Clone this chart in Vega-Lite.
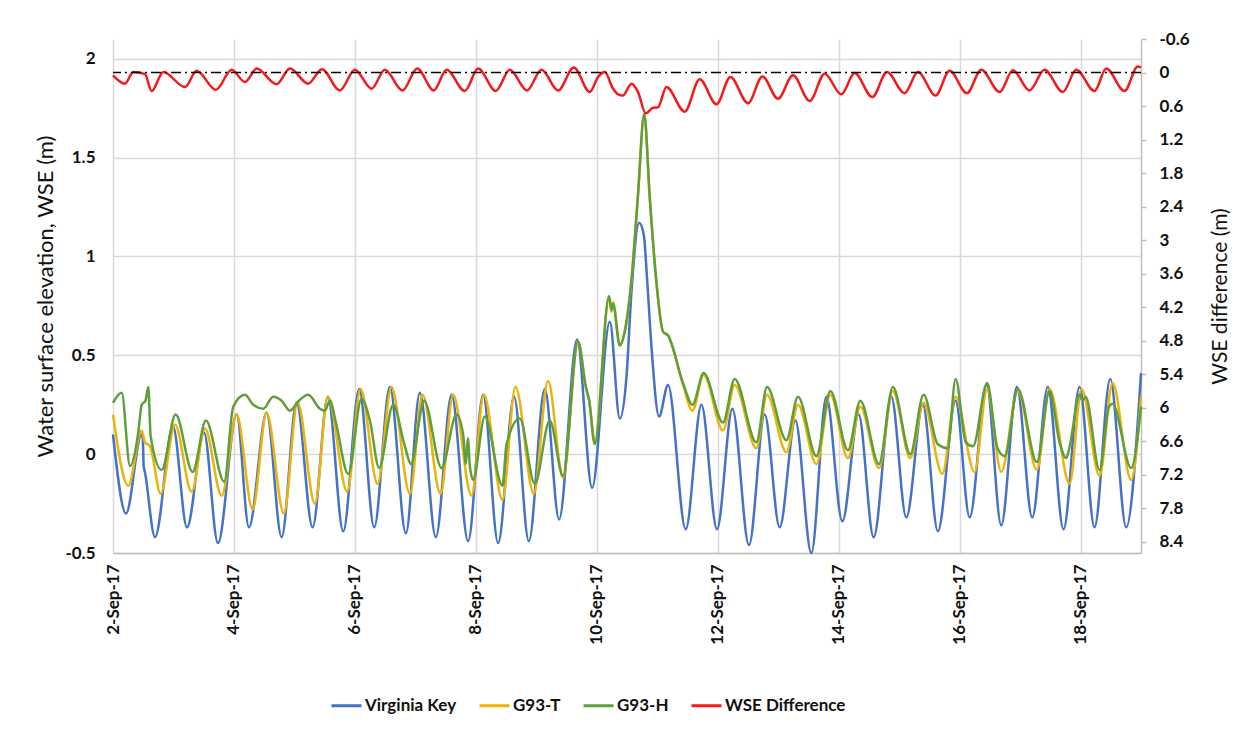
{
  "$schema": "https://vega.github.io/schema/vega-lite/v6.json",
  "autosize": "none",
  "width": 1028,
  "height": 514,
  "padding": {"left": 113, "top": 39, "right": 103, "bottom": 181},
  "background": "white",
  "config": {
    "view": {"stroke": null},
    "font": "Lato",
    "axis": {"labelFont": "Lato", "titleFont": "Lato", "labelColor": "#111", "titleColor": "#111", "labelOverlap": false},
    "axisRight": {"labelOverlap": false}
  },
  "datasets": {
    "wse": [
      {"t": "2017-09-02T00:00", "s": "Virginia Key", "v": 0.10},
      {"t": "2017-09-02T05:10", "s": "Virginia Key", "v": -0.30},
      {"t": "2017-09-02T11:20", "s": "Virginia Key", "v": 0.10},
      {"t": "2017-09-02T11:50", "s": "Virginia Key", "v": 0.08},
      {"t": "2017-09-02T12:10", "s": "Virginia Key", "v": -0.06},
      {"t": "2017-09-02T12:40", "s": "Virginia Key", "v": -0.09},
      {"t": "2017-09-02T16:40", "s": "Virginia Key", "v": -0.42},
      {"t": "2017-09-02T23:48", "s": "Virginia Key", "v": 0.14},
      {"t": "2017-09-03T05:22", "s": "Virginia Key", "v": -0.37},
      {"t": "2017-09-03T12:06", "s": "Virginia Key", "v": 0.11},
      {"t": "2017-09-03T17:39", "s": "Virginia Key", "v": -0.45},
      {"t": "2017-09-04T01:04", "s": "Virginia Key", "v": 0.20},
      {"t": "2017-09-04T05:57", "s": "Virginia Key", "v": -0.37},
      {"t": "2017-09-04T12:58", "s": "Virginia Key", "v": 0.21},
      {"t": "2017-09-04T18:55", "s": "Virginia Key", "v": -0.42},
      {"t": "2017-09-05T00:52", "s": "Virginia Key", "v": 0.26},
      {"t": "2017-09-05T07:13", "s": "Virginia Key", "v": -0.37},
      {"t": "2017-09-05T13:17", "s": "Virginia Key", "v": 0.29},
      {"t": "2017-09-05T19:22", "s": "Virginia Key", "v": -0.39},
      {"t": "2017-09-06T01:43", "s": "Virginia Key", "v": 0.33},
      {"t": "2017-09-06T07:40", "s": "Virginia Key", "v": -0.37},
      {"t": "2017-09-06T13:53", "s": "Virginia Key", "v": 0.34},
      {"t": "2017-09-06T20:14", "s": "Virginia Key", "v": -0.40},
      {"t": "2017-09-07T01:47", "s": "Virginia Key", "v": 0.31},
      {"t": "2017-09-07T08:08", "s": "Virginia Key", "v": -0.42},
      {"t": "2017-09-07T14:22", "s": "Virginia Key", "v": 0.30},
      {"t": "2017-09-07T20:57", "s": "Virginia Key", "v": -0.44},
      {"t": "2017-09-08T02:54", "s": "Virginia Key", "v": 0.30},
      {"t": "2017-09-08T08:51", "s": "Virginia Key", "v": -0.45},
      {"t": "2017-09-08T15:11", "s": "Virginia Key", "v": 0.29},
      {"t": "2017-09-08T21:02", "s": "Virginia Key", "v": -0.44},
      {"t": "2017-09-09T03:22", "s": "Virginia Key", "v": 0.33},
      {"t": "2017-09-09T09:03", "s": "Virginia Key", "v": -0.33},
      {"t": "2017-09-09T16:11", "s": "Virginia Key", "v": 0.58},
      {"t": "2017-09-09T22:08", "s": "Virginia Key", "v": -0.17},
      {"t": "2017-09-10T05:10", "s": "Virginia Key", "v": 0.67},
      {"t": "2017-09-10T09:08", "s": "Virginia Key", "v": 0.18},
      {"t": "2017-09-10T11:47", "s": "Virginia Key", "v": 0.39},
      {"t": "2017-09-10T13:46", "s": "Virginia Key", "v": 0.82},
      {"t": "2017-09-10T16:47", "s": "Virginia Key", "v": 1.17},
      {"t": "2017-09-10T18:39", "s": "Virginia Key", "v": 1.11},
      {"t": "2017-09-10T20:00", "s": "Virginia Key", "v": 0.88},
      {"t": "2017-09-10T21:44", "s": "Virginia Key", "v": 0.54},
      {"t": "2017-09-11T00:43", "s": "Virginia Key", "v": 0.19},
      {"t": "2017-09-11T04:17", "s": "Virginia Key", "v": 0.35},
      {"t": "2017-09-11T11:18", "s": "Virginia Key", "v": -0.38},
      {"t": "2017-09-11T17:32", "s": "Virginia Key", "v": 0.25},
      {"t": "2017-09-11T23:43", "s": "Virginia Key", "v": -0.38},
      {"t": "2017-09-12T05:50", "s": "Virginia Key", "v": 0.23},
      {"t": "2017-09-12T12:25", "s": "Virginia Key", "v": -0.46},
      {"t": "2017-09-12T18:38", "s": "Virginia Key", "v": 0.20},
      {"t": "2017-09-13T00:35", "s": "Virginia Key", "v": -0.37},
      {"t": "2017-09-13T06:49", "s": "Virginia Key", "v": 0.17},
      {"t": "2017-09-13T13:10", "s": "Virginia Key", "v": -0.50},
      {"t": "2017-09-13T19:07", "s": "Virginia Key", "v": 0.29},
      {"t": "2017-09-14T01:28", "s": "Virginia Key", "v": -0.34},
      {"t": "2017-09-14T07:56", "s": "Virginia Key", "v": 0.20},
      {"t": "2017-09-14T13:53", "s": "Virginia Key", "v": -0.42},
      {"t": "2017-09-14T20:54", "s": "Virginia Key", "v": 0.29},
      {"t": "2017-09-15T02:51", "s": "Virginia Key", "v": -0.32},
      {"t": "2017-09-15T09:26", "s": "Virginia Key", "v": 0.25},
      {"t": "2017-09-15T15:23", "s": "Virginia Key", "v": -0.39},
      {"t": "2017-09-15T22:25", "s": "Virginia Key", "v": 0.27},
      {"t": "2017-09-16T04:00", "s": "Virginia Key", "v": -0.32},
      {"t": "2017-09-16T10:43", "s": "Virginia Key", "v": 0.35},
      {"t": "2017-09-16T16:32", "s": "Virginia Key", "v": -0.36},
      {"t": "2017-09-16T22:44", "s": "Virginia Key", "v": 0.34},
      {"t": "2017-09-17T04:50", "s": "Virginia Key", "v": -0.32},
      {"t": "2017-09-17T11:01", "s": "Virginia Key", "v": 0.34},
      {"t": "2017-09-17T17:15", "s": "Virginia Key", "v": -0.38},
      {"t": "2017-09-17T23:36", "s": "Virginia Key", "v": 0.34},
      {"t": "2017-09-18T05:33", "s": "Virginia Key", "v": -0.37},
      {"t": "2017-09-18T11:47", "s": "Virginia Key", "v": 0.38},
      {"t": "2017-09-18T18:08", "s": "Virginia Key", "v": -0.37},
      {"t": "2017-09-19T00:00", "s": "Virginia Key", "v": 0.41},

      {"t": "2017-09-02T00:00", "s": "G93-T", "v": 0.20},
      {"t": "2017-09-02T06:04", "s": "G93-T", "v": -0.16},
      {"t": "2017-09-02T11:23", "s": "G93-T", "v": 0.12},
      {"t": "2017-09-02T12:42", "s": "G93-T", "v": 0.06},
      {"t": "2017-09-02T14:41", "s": "G93-T", "v": 0.04},
      {"t": "2017-09-02T18:55", "s": "G93-T", "v": -0.20},
      {"t": "2017-09-03T00:36", "s": "G93-T", "v": 0.15},
      {"t": "2017-09-03T07:13", "s": "G93-T", "v": -0.19},
      {"t": "2017-09-03T12:30", "s": "G93-T", "v": 0.13},
      {"t": "2017-09-03T19:07", "s": "G93-T", "v": -0.21},
      {"t": "2017-09-04T01:04", "s": "G93-T", "v": 0.20},
      {"t": "2017-09-04T07:25", "s": "G93-T", "v": -0.28},
      {"t": "2017-09-04T12:58", "s": "G93-T", "v": 0.21},
      {"t": "2017-09-04T19:50", "s": "G93-T", "v": -0.30},
      {"t": "2017-09-05T01:16", "s": "G93-T", "v": 0.26},
      {"t": "2017-09-05T08:08", "s": "G93-T", "v": -0.25},
      {"t": "2017-09-05T13:17", "s": "G93-T", "v": 0.29},
      {"t": "2017-09-05T20:57", "s": "G93-T", "v": -0.19},
      {"t": "2017-09-06T02:16", "s": "G93-T", "v": 0.33},
      {"t": "2017-09-06T09:00", "s": "G93-T", "v": -0.15},
      {"t": "2017-09-06T14:33", "s": "G93-T", "v": 0.34},
      {"t": "2017-09-06T21:49", "s": "G93-T", "v": -0.20},
      {"t": "2017-09-07T02:51", "s": "G93-T", "v": 0.30},
      {"t": "2017-09-07T10:00", "s": "G93-T", "v": -0.20},
      {"t": "2017-09-07T15:00", "s": "G93-T", "v": 0.30},
      {"t": "2017-09-07T22:18", "s": "G93-T", "v": -0.21},
      {"t": "2017-09-08T03:10", "s": "G93-T", "v": 0.30},
      {"t": "2017-09-08T10:35", "s": "G93-T", "v": -0.23},
      {"t": "2017-09-08T15:45", "s": "G93-T", "v": 0.34},
      {"t": "2017-09-08T23:00", "s": "G93-T", "v": -0.20},
      {"t": "2017-09-09T04:40", "s": "G93-T", "v": 0.37},
      {"t": "2017-09-09T10:37", "s": "G93-T", "v": -0.12},
      {"t": "2017-09-09T16:35", "s": "G93-T", "v": 0.57},
      {"t": "2017-09-09T19:40", "s": "G93-T", "v": 0.34},
      {"t": "2017-09-09T21:00", "s": "G93-T", "v": 0.27},
      {"t": "2017-09-09T23:13", "s": "G93-T", "v": 0.06},
      {"t": "2017-09-10T04:53", "s": "G93-T", "v": 0.79},
      {"t": "2017-09-10T05:50", "s": "G93-T", "v": 0.72},
      {"t": "2017-09-10T06:28", "s": "G93-T", "v": 0.77},
      {"t": "2017-09-10T09:08", "s": "G93-T", "v": 0.55},
      {"t": "2017-09-10T11:07", "s": "G93-T", "v": 0.62},
      {"t": "2017-09-10T13:46", "s": "G93-T", "v": 0.88},
      {"t": "2017-09-10T16:18", "s": "G93-T", "v": 1.30},
      {"t": "2017-09-10T18:50", "s": "G93-T", "v": 1.72},
      {"t": "2017-09-10T21:01", "s": "G93-T", "v": 1.30},
      {"t": "2017-09-10T23:36", "s": "G93-T", "v": 0.88},
      {"t": "2017-09-11T02:18", "s": "G93-T", "v": 0.62},
      {"t": "2017-09-11T04:17", "s": "G93-T", "v": 0.60},
      {"t": "2017-09-11T10:14", "s": "G93-T", "v": 0.35},
      {"t": "2017-09-11T13:58", "s": "G93-T", "v": 0.22},
      {"t": "2017-09-11T18:26", "s": "G93-T", "v": 0.40},
      {"t": "2017-09-12T02:06", "s": "G93-T", "v": 0.12},
      {"t": "2017-09-12T06:44", "s": "G93-T", "v": 0.35},
      {"t": "2017-09-12T15:21", "s": "G93-T", "v": 0.03},
      {"t": "2017-09-12T19:34", "s": "G93-T", "v": 0.30},
      {"t": "2017-09-13T03:15", "s": "G93-T", "v": 0.01},
      {"t": "2017-09-13T07:52", "s": "G93-T", "v": 0.25},
      {"t": "2017-09-13T15:10", "s": "G93-T", "v": -0.05},
      {"t": "2017-09-13T20:43", "s": "G93-T", "v": 0.30},
      {"t": "2017-09-14T03:42", "s": "G93-T", "v": -0.02},
      {"t": "2017-09-14T08:36", "s": "G93-T", "v": 0.24},
      {"t": "2017-09-14T16:00", "s": "G93-T", "v": -0.07},
      {"t": "2017-09-14T21:32", "s": "G93-T", "v": 0.32},
      {"t": "2017-09-15T04:26", "s": "G93-T", "v": -0.02},
      {"t": "2017-09-15T09:43", "s": "G93-T", "v": 0.26},
      {"t": "2017-09-15T17:08", "s": "G93-T", "v": -0.10},
      {"t": "2017-09-15T22:25", "s": "G93-T", "v": 0.29},
      {"t": "2017-09-16T05:57", "s": "G93-T", "v": -0.09},
      {"t": "2017-09-16T10:55", "s": "G93-T", "v": 0.33},
      {"t": "2017-09-16T16:32", "s": "G93-T", "v": -0.09},
      {"t": "2017-09-16T23:08", "s": "G93-T", "v": 0.32},
      {"t": "2017-09-17T06:40", "s": "G93-T", "v": -0.08},
      {"t": "2017-09-17T11:43", "s": "G93-T", "v": 0.33},
      {"t": "2017-09-17T19:39", "s": "G93-T", "v": -0.15},
      {"t": "2017-09-18T00:25", "s": "G93-T", "v": 0.33},
      {"t": "2017-09-18T07:33", "s": "G93-T", "v": -0.11},
      {"t": "2017-09-18T12:43", "s": "G93-T", "v": 0.36},
      {"t": "2017-09-18T20:06", "s": "G93-T", "v": -0.13},
      {"t": "2017-09-19T00:00", "s": "G93-T", "v": 0.29},

      {"t": "2017-09-02T00:00", "s": "G93-H", "v": 0.26},
      {"t": "2017-09-02T03:27", "s": "G93-H", "v": 0.31},
      {"t": "2017-09-02T06:45", "s": "G93-H", "v": -0.06},
      {"t": "2017-09-02T10:02", "s": "G93-H", "v": 0.11},
      {"t": "2017-09-02T11:23", "s": "G93-H", "v": 0.25},
      {"t": "2017-09-02T12:53", "s": "G93-H", "v": 0.27},
      {"t": "2017-09-02T14:00", "s": "G93-H", "v": 0.34},
      {"t": "2017-09-02T14:57", "s": "G93-H", "v": 0.09},
      {"t": "2017-09-02T19:19", "s": "G93-H", "v": -0.08},
      {"t": "2017-09-03T00:52", "s": "G93-H", "v": 0.20},
      {"t": "2017-09-03T07:37", "s": "G93-H", "v": -0.09},
      {"t": "2017-09-03T12:53", "s": "G93-H", "v": 0.17},
      {"t": "2017-09-03T20:09", "s": "G93-H", "v": -0.14},
      {"t": "2017-09-03T23:43", "s": "G93-H", "v": 0.24},
      {"t": "2017-09-04T04:22", "s": "G93-H", "v": 0.30},
      {"t": "2017-09-04T07:39", "s": "G93-H", "v": 0.25},
      {"t": "2017-09-04T11:37", "s": "G93-H", "v": 0.23},
      {"t": "2017-09-04T15:35", "s": "G93-H", "v": 0.29},
      {"t": "2017-09-04T18:55", "s": "G93-H", "v": 0.27},
      {"t": "2017-09-04T22:13", "s": "G93-H", "v": 0.22},
      {"t": "2017-09-05T01:47", "s": "G93-H", "v": 0.27},
      {"t": "2017-09-05T05:29", "s": "G93-H", "v": 0.30},
      {"t": "2017-09-05T10:07", "s": "G93-H", "v": 0.23},
      {"t": "2017-09-05T12:06", "s": "G93-H", "v": 0.22},
      {"t": "2017-09-05T14:05", "s": "G93-H", "v": 0.27},
      {"t": "2017-09-05T16:28", "s": "G93-H", "v": 0.16},
      {"t": "2017-09-05T21:20", "s": "G93-H", "v": -0.10},
      {"t": "2017-09-06T02:39", "s": "G93-H", "v": 0.28},
      {"t": "2017-09-06T05:57", "s": "G93-H", "v": 0.17},
      {"t": "2017-09-06T09:38", "s": "G93-H", "v": -0.07},
      {"t": "2017-09-06T15:11", "s": "G93-H", "v": 0.25},
      {"t": "2017-09-06T19:50", "s": "G93-H", "v": 0.04},
      {"t": "2017-09-06T22:13", "s": "G93-H", "v": -0.05},
      {"t": "2017-09-07T03:30", "s": "G93-H", "v": 0.27},
      {"t": "2017-09-07T10:24", "s": "G93-H", "v": -0.07},
      {"t": "2017-09-07T16:21", "s": "G93-H", "v": 0.20},
      {"t": "2017-09-07T18:58", "s": "G93-H", "v": 0.10},
      {"t": "2017-09-07T20:02", "s": "G93-H", "v": -0.05},
      {"t": "2017-09-07T20:50", "s": "G93-H", "v": 0.08},
      {"t": "2017-09-07T21:37", "s": "G93-H", "v": -0.06},
      {"t": "2017-09-07T22:56", "s": "G93-H", "v": -0.13},
      {"t": "2017-09-08T03:34", "s": "G93-H", "v": 0.19},
      {"t": "2017-09-08T10:35", "s": "G93-H", "v": -0.16},
      {"t": "2017-09-08T12:11", "s": "G93-H", "v": 0.05},
      {"t": "2017-09-08T17:27", "s": "G93-H", "v": 0.18},
      {"t": "2017-09-08T23:24", "s": "G93-H", "v": -0.15},
      {"t": "2017-09-09T05:21", "s": "G93-H", "v": 0.17},
      {"t": "2017-09-09T10:37", "s": "G93-H", "v": -0.11},
      {"t": "2017-09-09T16:35", "s": "G93-H", "v": 0.57},
      {"t": "2017-09-09T19:40", "s": "G93-H", "v": 0.34},
      {"t": "2017-09-09T21:00", "s": "G93-H", "v": 0.27},
      {"t": "2017-09-09T23:13", "s": "G93-H", "v": 0.05},
      {"t": "2017-09-10T04:53", "s": "G93-H", "v": 0.80},
      {"t": "2017-09-10T05:50", "s": "G93-H", "v": 0.73},
      {"t": "2017-09-10T06:28", "s": "G93-H", "v": 0.76},
      {"t": "2017-09-10T09:08", "s": "G93-H", "v": 0.55},
      {"t": "2017-09-10T11:07", "s": "G93-H", "v": 0.62},
      {"t": "2017-09-10T13:46", "s": "G93-H", "v": 0.88},
      {"t": "2017-09-10T16:18", "s": "G93-H", "v": 1.30},
      {"t": "2017-09-10T18:50", "s": "G93-H", "v": 1.72},
      {"t": "2017-09-10T21:01", "s": "G93-H", "v": 1.30},
      {"t": "2017-09-10T23:36", "s": "G93-H", "v": 0.88},
      {"t": "2017-09-11T02:18", "s": "G93-H", "v": 0.62},
      {"t": "2017-09-11T04:17", "s": "G93-H", "v": 0.60},
      {"t": "2017-09-11T10:14", "s": "G93-H", "v": 0.36},
      {"t": "2017-09-11T13:58", "s": "G93-H", "v": 0.25},
      {"t": "2017-09-11T18:26", "s": "G93-H", "v": 0.41},
      {"t": "2017-09-12T02:06", "s": "G93-H", "v": 0.16},
      {"t": "2017-09-12T06:44", "s": "G93-H", "v": 0.38},
      {"t": "2017-09-12T15:21", "s": "G93-H", "v": 0.06},
      {"t": "2017-09-12T19:34", "s": "G93-H", "v": 0.34},
      {"t": "2017-09-13T03:15", "s": "G93-H", "v": 0.07},
      {"t": "2017-09-13T07:52", "s": "G93-H", "v": 0.29},
      {"t": "2017-09-13T15:10", "s": "G93-H", "v": -0.01},
      {"t": "2017-09-13T20:43", "s": "G93-H", "v": 0.32},
      {"t": "2017-09-14T03:42", "s": "G93-H", "v": 0.02},
      {"t": "2017-09-14T08:36", "s": "G93-H", "v": 0.27},
      {"t": "2017-09-14T16:00", "s": "G93-H", "v": -0.05},
      {"t": "2017-09-14T21:32", "s": "G93-H", "v": 0.34},
      {"t": "2017-09-15T04:26", "s": "G93-H", "v": 0.00},
      {"t": "2017-09-15T09:43", "s": "G93-H", "v": 0.30},
      {"t": "2017-09-15T15:23", "s": "G93-H", "v": 0.05},
      {"t": "2017-09-15T19:15", "s": "G93-H", "v": 0.03},
      {"t": "2017-09-15T22:25", "s": "G93-H", "v": 0.38},
      {"t": "2017-09-16T02:30", "s": "G93-H", "v": 0.06},
      {"t": "2017-09-16T05:20", "s": "G93-H", "v": 0.04},
      {"t": "2017-09-16T10:55", "s": "G93-H", "v": 0.36},
      {"t": "2017-09-16T15:05", "s": "G93-H", "v": 0.03},
      {"t": "2017-09-16T17:55", "s": "G93-H", "v": -0.01},
      {"t": "2017-09-16T23:08", "s": "G93-H", "v": 0.33},
      {"t": "2017-09-17T06:40", "s": "G93-H", "v": -0.04},
      {"t": "2017-09-17T11:43", "s": "G93-H", "v": 0.32},
      {"t": "2017-09-17T15:40", "s": "G93-H", "v": 0.06},
      {"t": "2017-09-17T18:20", "s": "G93-H", "v": -0.02},
      {"t": "2017-09-17T19:38", "s": "G93-H", "v": 0.035},
      {"t": "2017-09-17T23:36", "s": "G93-H", "v": 0.30},
      {"t": "2017-09-18T00:48", "s": "G93-H", "v": 0.27},
      {"t": "2017-09-18T02:00", "s": "G93-H", "v": 0.29},
      {"t": "2017-09-18T07:33", "s": "G93-H", "v": -0.08},
      {"t": "2017-09-18T11:20", "s": "G93-H", "v": 0.24},
      {"t": "2017-09-18T12:43", "s": "G93-H", "v": 0.255},
      {"t": "2017-09-18T20:06", "s": "G93-H", "v": -0.07},
      {"t": "2017-09-19T00:00", "s": "G93-H", "v": 0.24}
    ],
    "diff": [
      {"t": "2017-09-02T00:00", "s": "WSE Difference", "d": 0.05},
      {"t": "2017-09-02T04:46", "s": "WSE Difference", "d": 0.20},
      {"t": "2017-09-02T08:03", "s": "WSE Difference", "d": -0.01},
      {"t": "2017-09-02T12:41", "s": "WSE Difference", "d": 0.03},
      {"t": "2017-09-02T15:21", "s": "WSE Difference", "d": 0.33},
      {"t": "2017-09-02T19:57", "s": "WSE Difference", "d": -0.01},
      {"t": "2017-09-03T04:34", "s": "WSE Difference", "d": 0.26},
      {"t": "2017-09-03T09:12", "s": "WSE Difference", "d": -0.03},
      {"t": "2017-09-03T16:52", "s": "WSE Difference", "d": 0.31},
      {"t": "2017-09-03T23:05", "s": "WSE Difference", "d": -0.05},
      {"t": "2017-09-04T04:22", "s": "WSE Difference", "d": 0.17},
      {"t": "2017-09-04T09:00", "s": "WSE Difference", "d": -0.07},
      {"t": "2017-09-04T16:56", "s": "WSE Difference", "d": 0.21},
      {"t": "2017-09-04T22:13", "s": "WSE Difference", "d": -0.07},
      {"t": "2017-09-05T05:28", "s": "WSE Difference", "d": 0.20},
      {"t": "2017-09-05T10:55", "s": "WSE Difference", "d": -0.06},
      {"t": "2017-09-05T18:03", "s": "WSE Difference", "d": 0.32},
      {"t": "2017-09-06T00:00", "s": "WSE Difference", "d": -0.05},
      {"t": "2017-09-06T06:37", "s": "WSE Difference", "d": 0.29},
      {"t": "2017-09-06T11:54", "s": "WSE Difference", "d": -0.05},
      {"t": "2017-09-06T18:55", "s": "WSE Difference", "d": 0.32},
      {"t": "2017-09-07T00:43", "s": "WSE Difference", "d": -0.07},
      {"t": "2017-09-07T07:20", "s": "WSE Difference", "d": 0.32},
      {"t": "2017-09-07T12:22", "s": "WSE Difference", "d": -0.05},
      {"t": "2017-09-07T19:38", "s": "WSE Difference", "d": 0.33},
      {"t": "2017-09-08T00:55", "s": "WSE Difference", "d": -0.07},
      {"t": "2017-09-08T07:56", "s": "WSE Difference", "d": 0.33},
      {"t": "2017-09-08T13:29", "s": "WSE Difference", "d": -0.05},
      {"t": "2017-09-08T20:21", "s": "WSE Difference", "d": 0.32},
      {"t": "2017-09-09T02:04", "s": "WSE Difference", "d": -0.05},
      {"t": "2017-09-09T08:40", "s": "WSE Difference", "d": 0.32},
      {"t": "2017-09-09T14:53", "s": "WSE Difference", "d": -0.09},
      {"t": "2017-09-09T21:13", "s": "WSE Difference", "d": 0.35},
      {"t": "2017-09-10T00:31", "s": "WSE Difference", "d": 0.08},
      {"t": "2017-09-10T03:10", "s": "WSE Difference", "d": -0.01},
      {"t": "2017-09-10T06:28", "s": "WSE Difference", "d": 0.29},
      {"t": "2017-09-10T08:27", "s": "WSE Difference", "d": 0.39},
      {"t": "2017-09-10T10:26", "s": "WSE Difference", "d": 0.41},
      {"t": "2017-09-10T13:46", "s": "WSE Difference", "d": 0.20},
      {"t": "2017-09-10T16:23", "s": "WSE Difference", "d": 0.35},
      {"t": "2017-09-10T19:26", "s": "WSE Difference", "d": 0.73},
      {"t": "2017-09-10T22:20", "s": "WSE Difference", "d": 0.63},
      {"t": "2017-09-11T00:19", "s": "WSE Difference", "d": 0.62},
      {"t": "2017-09-11T03:38", "s": "WSE Difference", "d": 0.26},
      {"t": "2017-09-11T10:55", "s": "WSE Difference", "d": 0.70},
      {"t": "2017-09-11T16:52", "s": "WSE Difference", "d": 0.12},
      {"t": "2017-09-11T23:30", "s": "WSE Difference", "d": 0.57},
      {"t": "2017-09-12T05:03", "s": "WSE Difference", "d": 0.08},
      {"t": "2017-09-12T12:02", "s": "WSE Difference", "d": 0.55},
      {"t": "2017-09-12T17:45", "s": "WSE Difference", "d": 0.07},
      {"t": "2017-09-12T23:56", "s": "WSE Difference", "d": 0.47},
      {"t": "2017-09-13T05:53", "s": "WSE Difference", "d": 0.05},
      {"t": "2017-09-13T12:30", "s": "WSE Difference", "d": 0.51},
      {"t": "2017-09-13T18:27", "s": "WSE Difference", "d": 0.02},
      {"t": "2017-09-14T01:04", "s": "WSE Difference", "d": 0.39},
      {"t": "2017-09-14T06:20", "s": "WSE Difference", "d": 0.01},
      {"t": "2017-09-14T13:22", "s": "WSE Difference", "d": 0.44},
      {"t": "2017-09-14T19:10", "s": "WSE Difference", "d": -0.01},
      {"t": "2017-09-15T02:11", "s": "WSE Difference", "d": 0.37},
      {"t": "2017-09-15T07:28", "s": "WSE Difference", "d": -0.01},
      {"t": "2017-09-15T14:29", "s": "WSE Difference", "d": 0.41},
      {"t": "2017-09-15T20:03", "s": "WSE Difference", "d": -0.03},
      {"t": "2017-09-16T02:54", "s": "WSE Difference", "d": 0.37},
      {"t": "2017-09-16T08:37", "s": "WSE Difference", "d": -0.05},
      {"t": "2017-09-16T15:53", "s": "WSE Difference", "d": 0.35},
      {"t": "2017-09-16T21:10", "s": "WSE Difference", "d": -0.04},
      {"t": "2017-09-17T03:46", "s": "WSE Difference", "d": 0.32},
      {"t": "2017-09-17T09:43", "s": "WSE Difference", "d": -0.05},
      {"t": "2017-09-17T16:59", "s": "WSE Difference", "d": 0.35},
      {"t": "2017-09-17T22:18", "s": "WSE Difference", "d": -0.05},
      {"t": "2017-09-18T05:33", "s": "WSE Difference", "d": 0.33},
      {"t": "2017-09-18T10:12", "s": "WSE Difference", "d": -0.07},
      {"t": "2017-09-18T17:27", "s": "WSE Difference", "d": 0.33},
      {"t": "2017-09-18T22:44", "s": "WSE Difference", "d": -0.11},
      {"t": "2017-09-19T00:00", "s": "WSE Difference", "d": -0.09}
    ]
  },
  "layer": [
    {
      "data": {"name": "wse"},
      "mark": {"type": "line", "interpolate": "monotone", "strokeWidth": 2.5},
      "encoding": {
        "x": {
          "field": "t",
          "type": "temporal",
          "scale": {"domain": [{"year": 2017, "month": "sep", "date": 2}, {"year": 2017, "month": "sep", "date": 19}]},
          "axis": {
            "title": null,
            "values": [
              {"year": 2017, "month": "sep", "date": 2},
              {"year": 2017, "month": "sep", "date": 4},
              {"year": 2017, "month": "sep", "date": 6},
              {"year": 2017, "month": "sep", "date": 8},
              {"year": 2017, "month": "sep", "date": 10},
              {"year": 2017, "month": "sep", "date": 12},
              {"year": 2017, "month": "sep", "date": 14},
              {"year": 2017, "month": "sep", "date": 16},
              {"year": 2017, "month": "sep", "date": 18}
            ],
            "format": "%-d-%b-%y",
            "labelAngle": -90,
            "labelFontSize": 17,
            "labelFontWeight": "bold",
            "labelPadding": 11,
            "labelOverlap": false,
            "ticks": false,
            "tickSize": 0,
            "grid": true,
            "gridColor": "#D9D9D9",
            "gridWidth": 1.5,
            "domainColor": "#BFBFBF",
            "domainWidth": 1.5
          }
        },
        "y": {
          "field": "v",
          "type": "quantitative",
          "scale": {"domain": [-0.5, 2.1], "nice": false, "zero": false},
          "axis": {
            "title": "Water surface elevation, WSE (m)",
            "titleFontSize": 22,
            "titleFontWeight": "normal",
            "titlePadding": 7,
            "values": [-0.5, 0, 0.5, 1, 1.5, 2],
            "labelExpr": "datum.value < 0 ? '-' + format(-datum.value, '~g') : format(datum.value, '~g')",
            "labelFontSize": 17,
            "labelFontWeight": "bold",
            "labelPadding": 18,
            "labelOverlap": false,
            "domain": false,
            "ticks": false,
            "tickSize": 0,
            "grid": true,
            "gridColor": "#D9D9D9",
            "gridWidth": 1.5
          }
        },
        "color": {
          "field": "s",
          "type": "nominal",
          "scale": {
            "domain": ["Virginia Key", "G93-T", "G93-H", "WSE Difference"],
            "range": ["#4472C4", "#EBB30C", "#5E9F3B", "#F21A1A"]
          },
          "legend": {
            "title": null,
            "orient": "none",
            "legendX": 217,
            "legendY": 650,
            "direction": "horizontal",
            "symbolType": "stroke",
            "symbolSize": 900,
            "symbolStrokeWidth": 3,
            "labelFont": "Lato",
            "labelFontSize": 17,
            "labelFontWeight": "bold",
            "labelColor": "#111",
            "labelOffset": 2,
            "columnPadding": 16
          }
        }
      }
    },
    {
      "layer": [
        {
          "data": {"name": "diff"},
          "mark": {"type": "line", "interpolate": "monotone", "strokeWidth": 2.5},
          "encoding": {
            "x": {"field": "t", "type": "temporal"},
            "y": {
              "field": "d",
              "type": "quantitative",
              "scale": {"domain": [-0.6, 8.6], "reverse": true, "nice": false, "zero": false},
              "axis": {
                "orient": "right",
                "title": "WSE difference (m)",
                "titleFontSize": 21,
                "titleFontWeight": "normal",
                "titleAngle": 270,
                "titleBaseline": "top",
                "titlePadding": 20,
                "values": [-0.6, 0, 0.6, 1.2, 1.8, 2.4, 3, 3.6, 4.2, 4.8, 5.4, 6, 6.6, 7.2, 7.8, 8.4],
                "labelExpr": "datum.value < 0 ? '-' + format(-datum.value, '~g') : format(datum.value, '~g')",
                "labelFontSize": 17,
                "labelFontWeight": "bold",
                "labelPadding": 13,
                "labelOverlap": false,
                "ticks": true,
                "tickSize": 5,
                "tickColor": "#BFBFBF",
                "tickWidth": 1.5,
                "domainColor": "#BFBFBF",
                "domainWidth": 1.5,
                "grid": false
              }
            },
            "color": {
              "field": "s",
              "type": "nominal",
              "scale": {
                "domain": ["Virginia Key", "G93-T", "G93-H", "WSE Difference"],
                "range": ["#4472C4", "#EBB30C", "#5E9F3B", "#F21A1A"]
              }
            }
          }
        },
        {
          "data": {"values": [{"ref": 0}]},
          "mark": {"type": "rule", "color": "#000000", "strokeWidth": 1.5, "strokeDash": [10, 4, 2, 4]},
          "encoding": {
            "y": {
              "field": "ref",
              "type": "quantitative",
              "axis": {
                "orient": "right",
                "title": "WSE difference (m)",
                "titleFontSize": 21,
                "titleFontWeight": "normal",
                "titleAngle": 270,
                "titleBaseline": "top",
                "titlePadding": 20,
                "values": [-0.6, 0, 0.6, 1.2, 1.8, 2.4, 3, 3.6, 4.2, 4.8, 5.4, 6, 6.6, 7.2, 7.8, 8.4],
                "labelExpr": "datum.value < 0 ? '-' + format(-datum.value, '~g') : format(datum.value, '~g')",
                "labelFontSize": 17,
                "labelFontWeight": "bold",
                "labelPadding": 13,
                "labelOverlap": false,
                "ticks": true,
                "tickSize": 5,
                "tickColor": "#BFBFBF",
                "tickWidth": 1.5,
                "domainColor": "#BFBFBF",
                "domainWidth": 1.5,
                "grid": false
              }
            }
          }
        }
      ]
    }
  ],
  "resolve": {"scale": {"y": "independent"}}
}
